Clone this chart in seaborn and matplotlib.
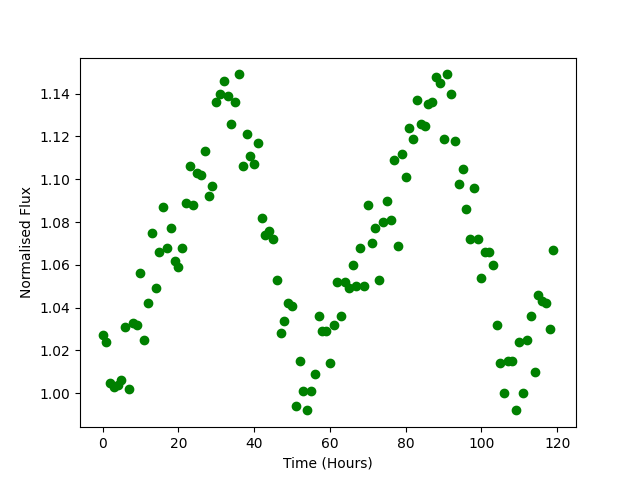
import matplotlib
matplotlib.use('Agg')
import matplotlib.pyplot as plt
import seaborn as sns
import numpy as np

# ── Data ───────────────────────────────────────────────────────────────────────
hours = np.arange(120)
flux = [
    1.027, 1.024, 1.005, 1.003, 1.004, 1.006, 1.031, 1.002, 1.033, 1.032,
    1.056, 1.025, 1.042, 1.075, 1.049, 1.066, 1.087, 1.068, 1.077, 1.062,
    1.059, 1.068, 1.089, 1.106, 1.088, 1.103, 1.102, 1.113, 1.092, 1.097,
    1.136, 1.140, 1.146, 1.139, 1.126, 1.136, 1.149, 1.106, 1.121, 1.111,
    1.107, 1.117, 1.082, 1.074, 1.076, 1.072, 1.053, 1.028, 1.034, 1.042,
    1.041, 0.994, 1.015, 1.001, 0.992, 1.001, 1.009, 1.036, 1.029, 1.029,
    1.014, 1.032, 1.052, 1.036, 1.052, 1.049, 1.060, 1.050, 1.068, 1.050,
    1.088, 1.070, 1.077, 1.053, 1.080, 1.090, 1.081, 1.109, 1.069, 1.112,
    1.101, 1.124, 1.119, 1.137, 1.126, 1.125, 1.135, 1.136, 1.148, 1.145,
    1.119, 1.149, 1.140, 1.118, 1.098, 1.105, 1.086, 1.072, 1.096, 1.072,
    1.054, 1.066, 1.066, 1.060, 1.032, 1.014, 1.000, 1.015, 1.015, 0.992,
    1.024, 1.000, 1.025, 1.036, 1.010, 1.046, 1.043, 1.042, 1.030, 1.067,
]

# ── Plot ───────────────────────────────────────────────────────────────────────
fig, ax = plt.subplots(figsize=(6.4, 4.8), dpi=100)
sns.scatterplot(x=hours, y=flux, color='green', s=36,
                edgecolor='green', linewidth=1, ax=ax)
ax.set_xlabel('Time (Hours)')
ax.set_ylabel('Normalised Flux')
plt.savefig('out.png', dpi=100)
plt.close()
